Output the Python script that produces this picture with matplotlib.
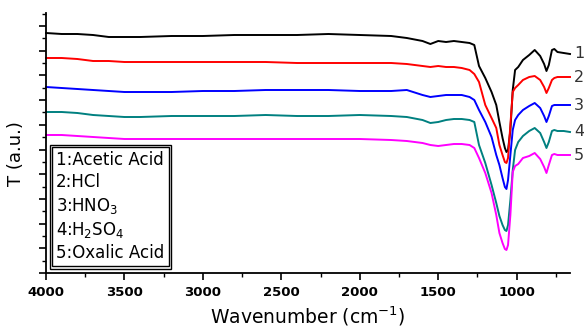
import matplotlib
matplotlib.use('Agg')
import matplotlib.pyplot as plt
from matplotlib.ticker import MultipleLocator, AutoMinorLocator
from matplotlib.patches import Rectangle
from matplotlib.transforms import IdentityTransform

# FTIR spectra (arbitrary transmittance units, curves offset)
wavenumber = [4000, 3900, 3800, 3700, 3600, 3500, 3400, 3200, 3000, 2800, 2600, 2400,
              2200, 2000, 1800, 1700, 1600, 1550, 1500, 1450, 1400, 1350, 1300, 1270,
              1240, 1200, 1160, 1130, 1110, 1090, 1075, 1065, 1055, 1040, 1025, 1010,
              990, 960, 920, 885, 850, 825, 810, 795, 775, 760, 740, 700, 660]

acetic = [240, 239, 239, 238, 236, 236, 236, 237, 237, 238, 238, 238,
          239, 238, 237, 235, 232, 229, 232, 231, 232, 231, 230, 228,
          207, 195, 181, 168, 151, 135, 125, 121, 123, 143, 183, 203,
          206, 213, 218, 223, 217, 209, 202, 208, 223, 224, 221, 220, 219]

hcl = [215, 215, 214, 212, 212, 211, 211, 211, 211, 211, 211, 210,
       210, 210, 210, 209, 207, 206, 207, 206, 206, 205, 203, 199,
       191, 168, 155, 145, 128, 118, 111, 110, 115, 148, 181, 185,
       188, 193, 196, 197, 193, 186, 180, 185, 193, 195, 196, 196, 196]

hno3 = [186, 185, 184, 183, 182, 181, 181, 181, 182, 182, 183, 183,
        183, 182, 182, 183, 178, 176, 177, 178, 178, 178, 176, 173,
        163, 151, 136, 118, 108, 95, 86, 84, 93, 118, 143, 153,
        158, 163, 167, 170, 165, 157, 151, 157, 167, 168, 168, 168, 168]

h2so4 = [161, 161, 160, 158, 157, 156, 156, 157, 157, 157, 158, 157,
         157, 158, 157, 156, 153, 150, 151, 153, 154, 154, 153, 151,
         128, 110, 88, 70, 57, 48, 43, 42, 48, 73, 103, 123,
         131, 137, 142, 145, 140, 131, 125, 131, 142, 143, 142, 142, 141]

oxalic = [138, 138, 137, 136, 135, 134, 134, 134, 134, 134, 134, 134,
          134, 134, 133, 132, 130, 128, 127, 128, 129, 129, 128, 125,
          115, 100, 80, 58, 40, 30, 24, 23, 28, 58, 101, 107,
          109, 115, 117, 120, 114, 106, 100, 108, 118, 119, 118, 118, 118]

series = [acetic, hcl, hno3, h2so4, oxalic]
legend_labels = ['1:Acetic Acid', '2:HCl', '3:HNO$_3$', '4:H$_2$SO$_4$', '5:Oxalic Acid']
curve_ids = ['1', '2', '3', '4', '5']
colors = ['black', '#ff0000', '#0000ff', '#008080', '#ff00ff']

fig = plt.figure(figsize=(5.84, 3.27), dpi=100)
ax = fig.add_axes([46 / 584, 1 - 273 / 327, 524 / 584, 260 / 327])

for vals, col, cid in zip(series, colors, curve_ids):
    ax.plot(wavenumber, vals, color=col, lw=1.4, clip_on=False)
    ax.annotate(cid, xy=(wavenumber[-1], vals[-1]), xytext=(3, 0),
                textcoords='offset points', va='center', ha='left',
                fontsize=11.5, color='#333333', annotation_clip=False)

ax.set_xlim(4000, 660)
ax.set_ylim(0, 260)

ax.spines['top'].set_visible(False)
ax.spines['right'].set_visible(False)
ax.spines['left'].set_linewidth(1.3)
ax.spines['bottom'].set_linewidth(1.3)

xt = [4000, 3500, 3000, 2500, 2000, 1500, 1000]
ax.set_xticks(xt)
ax.set_xticklabels([str(v) for v in xt], fontweight='bold', fontsize=9.5)
ax.xaxis.set_minor_locator(MultipleLocator(250))
ax.yaxis.set_major_locator(MultipleLocator(24.7))
ax.yaxis.set_minor_locator(AutoMinorLocator(2))
ax.tick_params(which='major', direction='out', length=5, width=1.2, pad=4)
ax.tick_params(which='minor', direction='out', length=3, width=1.0)
ax.tick_params(axis='y', labelleft=False)

ax.set_xlabel('Wavenumber (cm$^{-1}$)', fontsize=13.5, labelpad=4)
ax.set_ylabel('T (a.u.)', fontsize=13)
ax.yaxis.set_label_coords(-0.04, 0.46)

handles = [plt.Line2D([], [], linestyle='none') for _ in legend_labels]
leg = ax.legend(handles, legend_labels, loc='lower left',
                bbox_to_anchor=(6 / 524, 7 / 260), handlelength=0,
                handletextpad=0, fontsize=12, fancybox=False,
                edgecolor='black', framealpha=1, borderaxespad=0,
                labelspacing=0.25, borderpad=0.25)
leg.get_frame().set_linewidth(1.0)

# double border like the original
fig.canvas.draw()
bb = leg.get_window_extent()
fig.patches.append(Rectangle((bb.x0 - 2.5, bb.y0 - 2.5), bb.width + 5, bb.height + 5,
                             fill=False, edgecolor='black', lw=1.0,
                             transform=IdentityTransform(), figure=fig))

fig.savefig('out.png', dpi=100)
